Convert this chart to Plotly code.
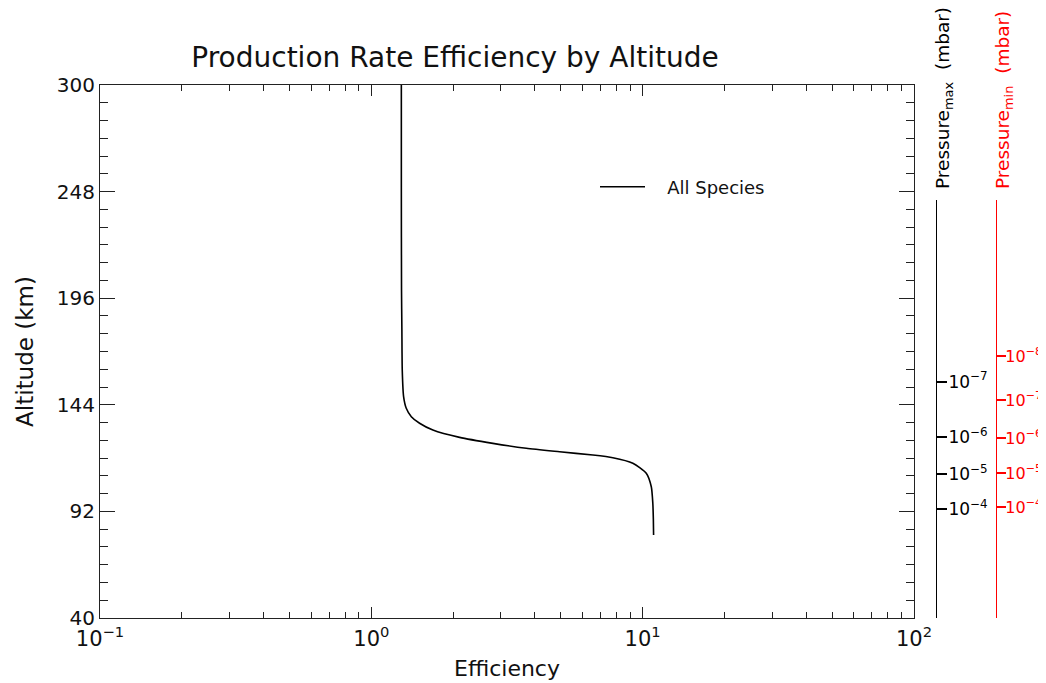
import plotly.graph_objects as go

# ---- data ----
altitude_km = [300, 250, 200, 180.5, 161, 148, 142.3, 138.2, 135, 131.7, 128.1, 125.2,
               122.8, 121.1, 119.5, 118.2, 115.5, 110.6, 104, 96, 88, 80.5]
efficiency = [1.29, 1.29, 1.292, 1.296, 1.300, 1.315, 1.345, 1.404, 1.506, 1.686, 2.115, 2.806,
              3.725, 4.941, 6.555, 7.764, 9.20, 10.31, 10.76, 10.90, 10.95, 10.97]
series_name = "All Species"

alt_ticks = [40, 92, 144, 196, 248, 300]
eff_ticks = [0.1, 1, 10, 100]
eff_ticktext = ["10<sup>−1</sup>", "10<sup>0</sup>", "10<sup>1</sup>", "10<sup>2</sup>"]
eff_minor = [0.2, 0.3, 0.4, 0.5, 0.6, 0.7, 0.8, 0.9, 2, 3, 4, 5, 6, 7, 8, 9,
             20, 30, 40, 50, 60, 70, 80, 90]

pmax_alt = [155.3, 128.3, 110.2, 93.2]
pmax_text = ["10<sup>−7</sup>", "10<sup>−6</sup>", "10<sup>−5</sup>", "10<sup>−4</sup>"]
pmin_alt = [167.8, 146.3, 127.8, 110.7, 94.1]
pmin_text = ["10<sup>−8</sup>", "10<sup>−7</sup>", "10<sup>−6</sup>", "10<sup>−5</sup>", "10<sup>−4</sup>"]

FONT = "DejaVu Sans"

# page body margin offset (screen px -> figure px)
OFF = 8
W, H = 1046 - OFF, 683 - OFF
# plot box in screen pixels
SX0, SX1, SY0, SY1 = 100, 914, 85, 618
L = SX0 - OFF
T = SY0 - OFF
B = H - (SY1 - OFF)
R = 10
PW = W - L - R
plot_h = H - T - B


def px(xs):
    return (xs - OFF - L) / PW


def py(ys):
    return (H - B - (ys - OFF)) / plot_h


x_dom_end = px(SX1)
press_top_frac = py(200)
press_range_top = 40 + press_top_frac * 260.0

fig = go.Figure()
fig.add_trace(go.Scatter(x=efficiency, y=altitude_km, mode="lines",
                         name="\u00a0\u00a0\u00a0" + series_name,
                         line=dict(color="black", width=1.6, shape="spline", smoothing=0.6)))
# carriers for the two pressure axes (no visible marks)
fig.add_trace(go.Scatter(x=[None], y=[None], xaxis="x2", yaxis="y2", showlegend=False, hoverinfo="skip"))
fig.add_trace(go.Scatter(x=[None], y=[None], xaxis="x2", yaxis="y3", showlegend=False, hoverinfo="skip"))

axis_common = dict(showline=True, linecolor="#222", linewidth=1.2, showgrid=False,
                   zeroline=False, mirror="allticks", ticks="inside", tickcolor="#222",
                   automargin=False)

fig.update_layout(
    width=W, height=H,
    margin=dict(l=L, r=R, t=T, b=B, autoexpand=False),
    paper_bgcolor="white", plot_bgcolor="white",
    font=dict(family=FONT, color="#111", size=17),
    title=dict(text="Production Rate Efficiency by Altitude", x=px(455), xref="paper",
               xanchor="center", y=1 - (57 - OFF) / H, yanchor="middle", automargin=False,
               font=dict(size=28, family=FONT, color="#111")),
    xaxis=dict(type="log", range=[-1, 2], domain=[0, x_dom_end], tickvals=eff_ticks,
               ticktext=eff_ticktext, ticklen=11, tickwidth=1.2, ticklabelstandoff=2,
               minor=dict(tickvals=eff_minor, ticks="inside", ticklen=6, tickcolor="#222"),
               title=dict(text="Efficiency", font=dict(size=22), standoff=10),
               tickfont=dict(size=21), **axis_common),
    yaxis=dict(range=[40, 300], tickvals=alt_ticks, ticklen=15, tickwidth=1.2,
               minor=dict(dtick=52 / 6, tick0=40, ticks="inside", ticklen=8, tickcolor="#222"),
               title=dict(text="Altitude (km)", font=dict(size=23), standoff=16),
               tickfont=dict(size=20), **axis_common),
    xaxis2=dict(domain=[0.998, 1.0], visible=False, anchor="y2"),
    yaxis2=dict(domain=[0, press_top_frac], range=[40, press_range_top], anchor="free",
                position=px(936), side="right", showline=True, automargin=False,
                linecolor="black", linewidth=1.2, showgrid=False, zeroline=False,
                tickvals=pmax_alt, ticktext=pmax_text, ticks="outside", ticklen=10,
                ticklabelstandoff=-2,
                tickcolor="black", tickwidth=1.5, tickfont=dict(size=17, color="black")),
    yaxis3=dict(domain=[0, press_top_frac], range=[40, press_range_top], anchor="free",
                position=px(996), side="right", showline=True, automargin=False,
                linecolor="red", linewidth=1.2, showgrid=False, zeroline=False,
                tickvals=pmin_alt, ticktext=pmin_text, ticks="outside", ticklen=9,
                ticklabelstandoff=-4,
                tickcolor="red", tickwidth=1.5, tickfont=dict(size=16, color="red")),
    legend=dict(x=px(595), y=py(187), xanchor="left",
                yanchor="middle", bgcolor="rgba(0,0,0,0)", font=dict(size=18),
                itemwidth=45),
    showlegend=True,
)

fig.add_annotation(text="Pressure<sub>max</sub>  (mbar)", textangle=-90, xref="paper", yref="paper",
                   x=px(944), y=py(191), xanchor="center",
                   yanchor="bottom", showarrow=False, font=dict(size=18.5, color="black", family=FONT))
fig.add_annotation(text="Pressure<sub>min</sub>  (mbar)", textangle=-90, xref="paper", yref="paper",
                   x=px(1004), y=py(191), xanchor="center",
                   yanchor="bottom", showarrow=False, font=dict(size=18.5, color="red", family=FONT))

fig.write_html("out.html")
